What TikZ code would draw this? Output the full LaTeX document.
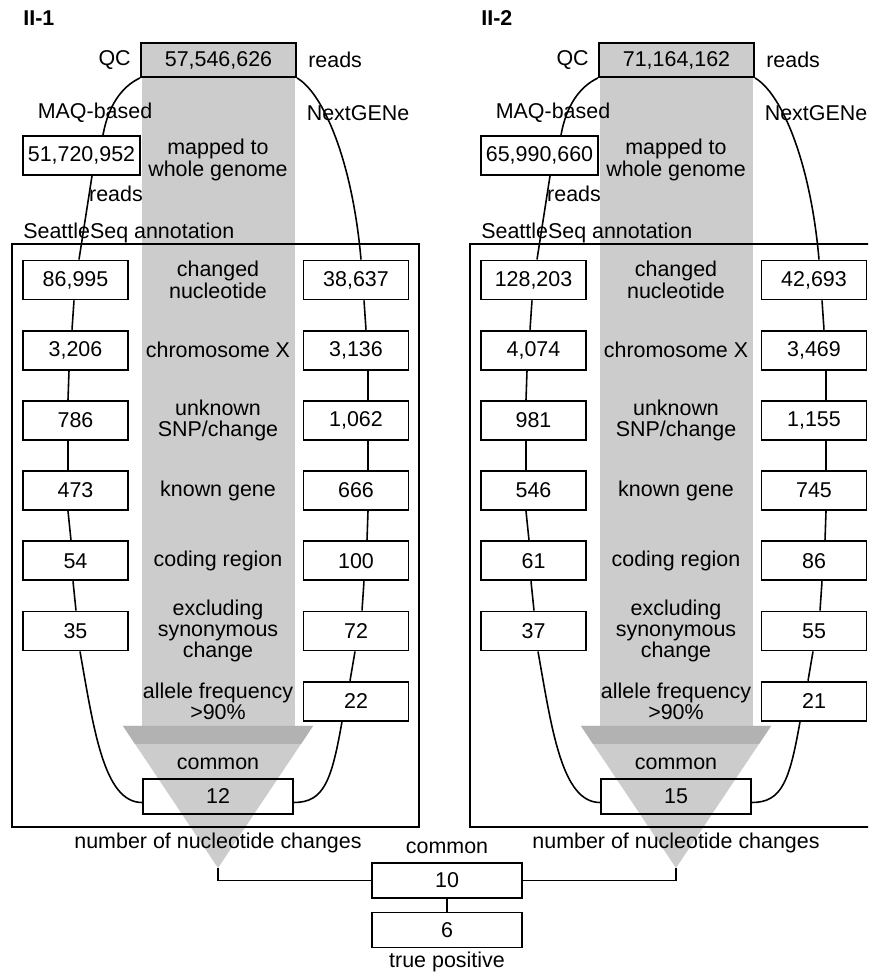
\documentclass[tikz,border=0pt]{standalone}
\usepackage{fontspec}
\setmainfont{Liberation Sans}
\usepackage{tikz}
\usetikzlibrary{positioning, calc}
\definecolor{myband}{gray}{0.80}
\definecolor{mystrip}{gray}{0.70}
\newcommand{\diagfont}{\fontsize{12.2}{12.2}\selectfont}
\tikzset{
  numbox/.style={rectangle, draw, fill=white, line width=1.1pt,
    minimum width=2.1cm, minimum height=0.78cm, inner sep=1pt},
  qcbox/.style={numbox, fill=myband, minimum width=3.1cm, minimum height=0.68cm},
  readbox/.style={numbox, minimum width=2.34cm},
  sumbox/.style={numbox, fill=none, minimum width=3cm, minimum height=0.7cm},
  lab/.style={inner sep=0pt, align=center},
  link/.style={line width=0.9pt},
  frame/.style={line width=1.1pt}
}
% #1 name prefix, #2 x shift, #3 title, #4 QC reads, #5 mapped reads,
% #6 MAQ column, #7 NextGENe column, #8 common
\newcommand{\filterpanel}[8]{%
\begin{scope}[shift={(#2,0)}]
  % grey band and funnel
  \fill[myband] (142,246) rectangle (295,895);
  \fill[myband] (123,246) -- (313,246) -- (218,104) -- cycle;
  \fill[mystrip] (123,246) -- (313,246) -- (301,228) -- (135,228) -- cycle;
  \coordinate (#1tip) at (218,104);
  \draw[frame] (12,145) rectangle (419,728);
  \node[lab, anchor=west, font=\diagfont\bfseries] (#1title) at (23,954) {#3};
  \node[qcbox] (#1qc) at (218.5,912) {#4};
  \node[lab, left=0.18cm of #1qc] (#1qclab) {QC};
  \node[lab, right=0.22cm of #1qc] (#1qcreads) {reads};
  \node[lab] (#1maqlab) at (95,859) {MAQ-based};
  \node[lab] (#1nglab) at (358,859) {NextGENe};
  \node[readbox] (#1maq) at (81.5,816.5) {#5};
  \node[lab] (#1maqreads) at (116,778) {reads};
  \node[lab] (#1mapped) at (218,812) {mapped to\\whole genome};
  \node[lab, anchor=west] (#1seattle) at (23,739) {SeattleSeq annotation};
  \foreach \v [count=\i] in {#6}
    \node[numbox] (#1l\i) at (75.5,{692-70.2*(\i-1)}) {\v};
  \foreach \v [count=\i] in {#7}
    \node[numbox] (#1r\i) at (356,{692-70.2*(\i-1)}) {\v};
  \foreach \t [count=\i] in {changed\\nucleotide, chromosome X, unknown\\SNP/change,
      known gene, coding region, excluding\\synonymous\\change, allele frequency\\>90\%}
    \node[lab] (#1filt\i) at (218,{692-70.2*(\i-1)}) {\t};
  \node[sumbox] (#1common) at (218,175.5) {#8};
  \node[lab, above=0.15cm of #1common] (#1commonlab) {common};
  \node[lab] (#1count) at (218,129) {number of nucleotide changes};
  % MAQ-based side
  \draw[link] (#1qc.south west) to[out=205, in=80, out distance=0.4cm, in distance=0.6cm]
    ($(#1maq.north)+(21.5,0)$);
  \draw[link] ($(#1maq.south)+(10.5,0)$) -- ($(#1l1.north)+(3.5,0)$);
  \foreach \a/\b/\p/\q in {1/2/-1.5/-3.5, 2/3/-6.5/-7.5, 3/4/-7.5/-7.5, 4/5/-7.5/-4.5, 5/6/-2.5/0.5}
    \draw[link] ($(#1l\a.south)+(\p,0)$) -- ($(#1l\b.north)+(\q,0)$);
  \draw[link] ($(#1l6.south)+(4.5,0)$) to[out=-80, in=180, out distance=1.6cm, in distance=0.76cm]
    ($(#1common.west)+(0,-6)$);
  % NextGENe side
  \draw[link] (#1qc.south east) to[out=-30, in=95, out distance=0.6cm, in distance=2cm]
    ($(#1r1.north)+(5,0)$);
  \foreach \a/\b/\p/\q in {1/2/8/10, 2/3/12/12, 3/4/12/12, 4/5/12/11, 5/6/8/6, 6/7/-1/-6}
    \draw[link] ($(#1r\a.south)+(\p,0)$) -- ($(#1r\b.north)+(\q,0)$);
  \draw[link] ($(#1r7.south)+(-14,0)$) to[out=-100, in=0, out distance=1.2cm, in distance=0.6cm]
    ($(#1common.east)+(0,-6)$);
\end{scope}}

\begin{document}
\begin{tikzpicture}[x=0.02cm, y=0.02cm, font=\diagfont]
  \useasboundingbox (0,0) rectangle (868,972);
  \clip (0,0) rectangle (868,972);

  \filterpanel{p1}{0}{II-1}{57,546,626}{51,720,952}%
    {{86,995},{3,206},786,473,54,35}{{38,637},{3,136},{1,062},666,100,72,22}{12}
  \filterpanel{p2}{458}{II-2}{71,164,162}{65,990,660}%
    {{128,203},{4,074},981,546,61,37}{{42,693},{3,469},{1,155},745,86,55,21}{15}

  % both samples together
  \node[sumbox] (ten) at (447,91.5) {10};
  \node[lab, above=0.15cm of ten] (tenlab) {common};
  \node[sumbox] (six) at (447,42) {6};
  \node[lab, below=0.06cm of six] (sixlab) {true positive};
  \draw[frame] (p1tip) |- (ten.west);
  \draw[frame] (p2tip) |- (ten.east);
  \draw[frame] (ten) -- (six);
\end{tikzpicture}
\end{document}
